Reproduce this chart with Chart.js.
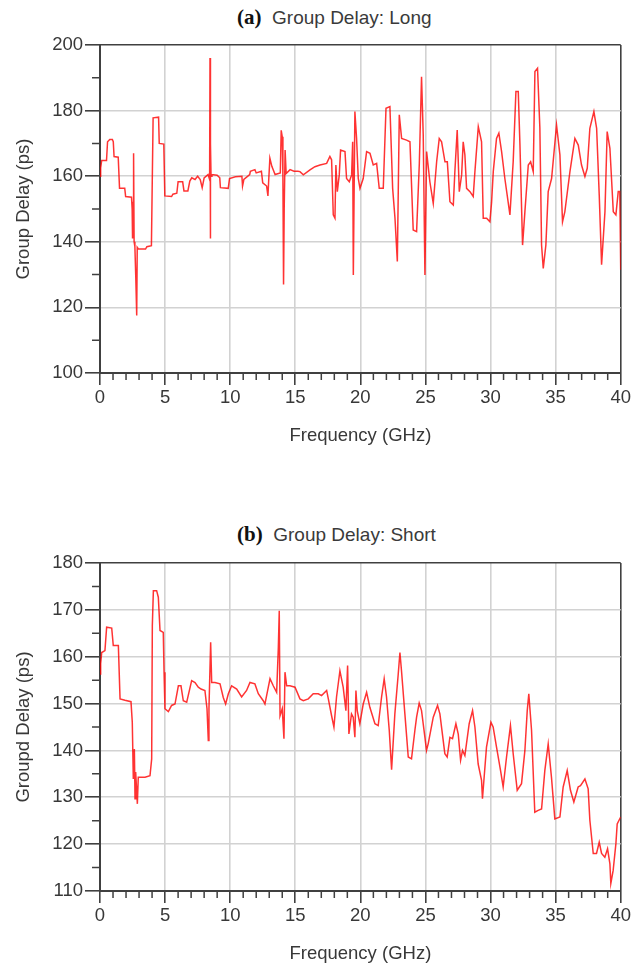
<!DOCTYPE html>
<html>
<head>
<meta charset="utf-8">
<title>Group Delay</title>
<script src="https://cdn.jsdelivr.net/npm/chart.js@4.4.1/dist/chart.umd.min.js"></script>
<style>
  html, body { margin: 0; padding: 0; background: #fff; overflow: hidden; }
  #wrap { position: relative; width: 633px; height: 970px; }
  canvas { position: absolute; left: 0; }
  .ttl {
    position: absolute; left: 237px; height: 22px; line-height: 22px;
    font-family: "Liberation Sans", Arial, sans-serif; font-size: 19px;
    color: #3a3a3a; white-space: pre;
  }
  .ttl b { font-family: "Liberation Serif", "Times New Roman", serif; font-size: 21px; color: #111; }
</style>
</head>
<body>
<div id="wrap">
  <div class="ttl" style="top:6px"><b>(a)</b>  Group Delay: Long</div>
  <canvas id="chartA" width="633" height="485" style="top:0"></canvas>
  <div class="ttl" style="top:523px"><b>(b)</b>  Group Delay: Short</div>
  <canvas id="chartB" width="633" height="485" style="top:518px"></canvas>
</div>
<script>
// (a) long
const freqA = [
  0.00, 0.05, 0.13, 0.50, 0.58, 0.75, 0.95, 1.02, 1.08, 1.40,
  1.50, 1.90, 1.97, 2.42, 2.47, 2.50, 2.55, 2.58, 2.62, 2.68,
  2.75, 2.82, 2.86, 2.95, 3.50, 3.60, 3.95, 4.02, 4.08, 4.50,
  4.55, 4.90, 4.98, 5.50, 5.60, 5.90, 6.00, 6.35, 6.45, 6.75,
  6.90, 7.05, 7.30, 7.50, 7.70, 7.85, 8.00, 8.30, 8.42, 8.45,
  8.47, 8.50, 8.53, 8.60, 9.00, 9.20, 9.25, 9.85, 9.95, 10.40,
  10.90, 10.95, 11.05, 11.50, 11.55, 11.90, 12.00, 12.40, 12.50, 12.80,
  12.90, 12.95, 13.05, 13.20, 13.45, 13.85, 13.92, 14.00, 14.05, 14.10,
  14.15, 14.22, 14.30, 14.60, 14.90, 15.20,
  15.36, 15.62, 16.13, 16.51, 16.90, 17.41, 17.66, 17.79, 17.92, 18.05,
  18.12, 18.23, 18.38, 18.48, 18.82, 18.94, 19.15, 19.33, 19.41, 19.46,
  19.58, 19.71, 19.84, 19.97, 20.22, 20.48, 20.74, 20.99, 21.25, 21.45,
  21.76, 21.97, 22.27, 22.48, 22.66, 22.84, 22.99, 23.17, 23.55, 23.81,
  24.06, 24.32, 24.53, 24.70, 24.83, 24.96, 25.09, 25.34, 25.60, 25.86,
  26.06, 26.24, 26.50, 26.68, 26.88, 27.14, 27.26, 27.44, 27.60, 27.78,
  27.90, 28.03, 28.16, 28.42, 28.67, 28.80, 29.06, 29.31, 29.44, 29.70,
  29.95, 30.08, 30.21, 30.46, 30.64, 30.85, 31.10, 31.49, 31.74, 31.95,
  32.13, 32.26, 32.46, 32.64, 32.90, 33.08, 33.28, 33.41, 33.61, 33.79,
  33.92, 34.05, 34.25, 34.43, 34.69, 35.07, 35.33, 35.53, 35.71, 36.10,
  36.48, 36.74, 36.99, 37.25, 37.43, 37.63, 37.94, 38.15, 38.35, 38.53,
  38.79, 38.96, 39.17, 39.43, 39.63, 39.81, 39.93, 40.00
];
const delayA = [
  160, 162.5, 164.8, 164.8, 170.5, 171.2, 171.2, 170.5, 166, 165.8,
  156.3, 156.3, 153.8, 153.6, 150, 141, 152, 167, 140, 138.5,
  129, 117.5, 138.3, 137.8, 137.8, 138.5, 138.8, 160, 177.8, 178,
  170, 169.8, 154, 153.8, 154.5, 154.8, 158.3, 158.3, 155.5, 155.5,
  158.5, 159.5, 159, 160, 159, 156.5, 159.5, 160.5, 159, 196,
  141, 170, 160, 160.5, 160.3, 159.5, 156.5, 156.3, 159.3, 159.8,
  160, 157, 159, 160.5, 161.5, 162, 161, 161.5, 158, 157,
  154, 158, 165.5, 163, 160.5, 161, 174, 172, 160, 127,
  150, 168, 160.8, 162, 161.5, 161.5,
  161.4, 160.4, 161.9, 162.9, 163.4, 163.9, 166, 165, 148.2, 147.2,
  163.4, 155.3, 160.4, 168, 167.5, 159.3, 158.3, 160.4, 170.5, 129.9,
  179.7, 171.5, 159.3, 156.3, 159.3, 167.5, 167, 163.4, 163.9, 156.3,
  156.3, 180.7, 181.2, 156.3, 147.2, 134, 178.7, 171.5, 171, 170.5,
  143.6, 143.1, 163.9, 190.3, 172.6, 129.9, 167.5, 158.3, 151.7, 164.4,
  171.5, 170.5, 164.4, 164.4, 152.2, 151.2, 161.4, 174.1, 155.3, 160.4,
  170.5, 166.5, 156.3, 155.3, 153.8, 161.4, 175.1, 170.5, 147.2, 147.2,
  146.1, 152, 161.4, 171.5, 173.1, 167.5, 159.3, 148.2, 164.4, 185.8,
  185.8, 169.5, 139, 149.2, 163.4, 164.4, 161.4, 191.9, 192.9, 174.6,
  139, 131.9, 139, 155.3, 159.3, 175.6, 166.5, 146.1, 149.2, 161.4,
  171.5, 169.5, 163.4, 159.9, 162.4, 174.6, 179.7, 174.6, 154.3, 133,
  149.2, 173.6, 168.5, 149.2, 148.2, 155.3, 155.3, 131.5
];

// (b) short
const freqB = [
  0.00, 0.05, 0.13, 0.38, 0.51, 0.90, 1.02, 1.41, 1.54, 1.92,
  2.38, 2.48, 2.56, 2.64, 2.69, 2.74, 2.87, 2.94, 3.46, 3.84,
  3.97, 4.02, 4.10, 4.35, 4.48, 4.61, 4.86, 4.92, 4.99, 5.25,
  5.50, 5.76, 6.02, 6.22, 6.40, 6.66, 7.04, 7.30, 7.55, 7.76,
  8.06, 8.22, 8.32, 8.37, 8.50, 8.58, 8.83, 9.22, 9.47, 9.65,
  9.86, 10.11, 10.50, 10.88, 11.26, 11.52, 11.90, 12.16, 12.54, 12.67,
  12.93, 13.06, 13.31, 13.57, 13.70, 13.77, 13.83, 14.00, 14.13, 14.21,
  14.34, 14.59, 14.98, 15.36, 15.62, 16.00, 16.38, 16.77, 17.02, 17.41,
  17.54, 17.79,
  17.97, 18.17, 18.43, 18.68, 18.89, 19.02, 19.12, 19.32, 19.45, 19.58,
  19.66, 19.76, 19.96, 20.22, 20.48, 20.73, 21.12, 21.37, 21.63, 21.83,
  22.01, 22.22, 22.40, 22.65, 22.91, 23.04, 23.16, 23.42, 23.68, 23.93,
  24.19, 24.32, 24.52, 24.70, 24.96, 25.08, 25.21, 25.60, 25.93, 26.11,
  26.49, 26.67, 26.88, 27.08, 27.34, 27.52, 27.70, 27.85, 28.03, 28.36,
  28.62, 28.80, 29.05, 29.31, 29.38, 29.69, 30.03, 30.20, 30.46, 30.77,
  30.97, 31.23, 31.53, 31.74, 32.05, 32.38, 32.64, 32.82, 32.94, 33.15,
  33.40, 33.66, 33.92, 34.17, 34.43, 34.68, 34.94, 35.33, 35.58, 35.89,
  36.14, 36.40, 36.73, 36.91, 37.25, 37.50, 37.63, 37.89, 38.14, 38.35,
  38.53, 38.78, 38.99, 39.17, 39.24, 39.42, 39.63, 39.73, 40.00
];
const delayB = [
  156.3, 158.5, 160.9, 161.3, 166.3, 166.1, 162.4, 162.4, 151, 150.7,
  150.4, 146, 133.9, 140.3, 129.7, 135.4, 128.6, 134.3, 134.3, 134.6,
  138.2, 166.6, 174.1, 174.1, 172.7, 165.6, 165.2, 156.7, 148.9, 148.3,
  149.6, 149.9, 153.8, 153.8, 150.6, 150.3, 154.9, 154.5, 153.5, 153.1,
  152.8, 148.9, 142.1, 148.9, 163.1, 154.5, 154.5, 154.2, 151.3, 149.9,
  152.1, 153.8, 153.1, 151.4, 152.8, 154.5, 154.2, 152.1, 150.6, 149.9,
  153.5, 155.3, 153.8, 152.4, 162, 169.8, 147.4, 148.9, 142.5, 156.7,
  153.8, 153.8, 153.5, 151, 150.6, 151, 152.1, 152.1, 151.7, 152.8,
  151, 147.4,
  145, 151.4, 157, 153.5, 148.5, 158.1, 143.5, 147.8, 147.1, 142.8,
  152.8, 148.5, 145.7, 149.9, 152.4, 149.2, 145.7, 145.3, 151.4, 155.3,
  151.4, 144.3, 135.9, 147.8, 156.3, 160.9, 157, 147.8, 138.6, 138.2,
  144.3, 147.1, 150.1, 148.5, 142.8, 140, 141.4, 147.1, 149.6, 147.8,
  139.3, 138.6, 142.8, 142.5, 145.7, 143.5, 137.9, 140, 138.9, 145.7,
  148.5, 145, 137.1, 133.6, 129.7, 140.7, 146, 145, 140.7, 135.7,
  132.2, 138.6, 145.3, 139.3, 131.5, 132.9, 140, 148.5, 152.1, 144.3,
  126.8, 127.2, 127.5, 135.7, 141.4, 134.3, 125.4, 125.8, 132.2, 135.7,
  131.5, 129, 132.2, 132.5, 133.9, 131.8, 125.1, 118, 118, 120.4,
  118, 117.2, 119, 115.8, 111.6, 114.4, 120.1, 124.3, 125.8
];

const xTicks = { min: 0, max: 40, step: 5 };

const TEXT = '#383838';
const AXIS = '#404040';
const GRID = '#d2d2d2';
const FONT = '"Liberation Sans", Arial, sans-serif';

// small unlabeled ticks between the major ones
const minorTicks = {
  id: 'minorTicks',
  afterDraw(chart, args, opts) {
    const { ctx } = chart;
    const x = chart.scales.x, y = chart.scales.y;
    ctx.save();
    ctx.strokeStyle = AXIS;
    ctx.lineWidth = 1.5;
    ctx.beginPath();
    for (let v = x.min + 1; v < x.max; v++) {
      if (v % xTicks.step === 0) continue;
      const px = x.getPixelForValue(v);
      ctx.moveTo(px, y.bottom);
      ctx.lineTo(px, y.bottom + 7);
    }
    for (let v = y.min + opts.yStep / 2; v < y.max; v += opts.yStep) {
      const py = y.getPixelForValue(v);
      ctx.moveTo(x.left - 8, py);
      ctx.lineTo(x.left, py);
    }
    ctx.stroke();
    ctx.restore();
  }
};

function makeChart(id, freq, delay, yMin, yMax, yStep, yTitle) {
  const points = freq.map((f, i) => ({ x: f, y: delay[i] }));
  return new Chart(document.getElementById(id), {
    type: 'line',
    data: {
      datasets: [{
        data: points,
        borderColor: 'rgba(255,0,0,0.8)',
        borderWidth: 1.5,
        pointRadius: 0,
        tension: 0,
        fill: false
      }]
    },
    options: {
      responsive: false,
      animation: false,
      layout: { padding: { top: 45, right: 12, left: 0, bottom: 0 } },
      plugins: {
        legend: { display: false },
        tooltip: { enabled: false },
        minorTicks: { yStep: yStep }
      },
      scales: {
        x: {
          type: 'linear',
          min: xTicks.min,
          max: xTicks.max,
          afterFit: s => { s.height = 112; },
          ticks: { stepSize: xTicks.step, color: TEXT, padding: 2, font: { family: FONT, size: 18.5 } },
          grid: {
            color: c => c.tick && c.tick.value === xTicks.max ? AXIS : GRID,
            lineWidth: 1.6,
            tickColor: AXIS,
            tickLength: 12
          },
          border: { color: AXIS, width: 2 },
          title: {
            display: true, text: 'Frequency (GHz)', color: TEXT,
            font: { family: FONT, size: 18.5 },
            padding: { top: 0, bottom: 38 }
          }
        },
        y: {
          min: yMin,
          max: yMax,
          afterFit: s => { s.width = 100; },
          ticks: { stepSize: yStep, color: TEXT, padding: 2, font: { family: FONT, size: 18.5 } },
          grid: {
            color: c => c.tick && c.tick.value === yMax ? AXIS : GRID,
            lineWidth: 1.6,
            tickColor: AXIS,
            tickLength: 15
          },
          border: { color: AXIS, width: 2 },
          title: {
            display: true, text: yTitle, color: TEXT,
            font: { family: FONT, size: 18.5 },
            padding: { top: 13, bottom: 0 }
          }
        }
      }
    },
    plugins: [minorTicks]
  });
}

makeChart('chartA', freqA, delayA, 100, 200, 20, 'Group Delay (ps)');
makeChart('chartB', freqB, delayB, 110, 180, 10, 'Groupd Delay (ps)');
</script>
</body>
</html>
